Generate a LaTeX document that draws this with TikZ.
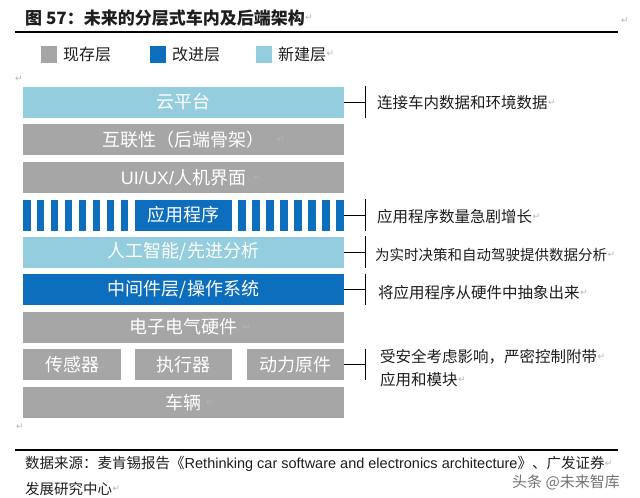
\documentclass[tikz,border=0pt]{standalone}
\usepackage{fontspec}
\setmainfont{Noto Sans CJK SC}
\newfontfamily\latinfont{Liberation Sans}
\newfontfamily\symfont{DejaVu Sans}
\definecolor{existc}{HTML}{A6A6A6}
\definecolor{improvec}{HTML}{0E6EBE}
\definecolor{newc}{HTML}{94CDDD}
\definecolor{markc}{HTML}{B4B4B4}
\definecolor{inkc}{HTML}{1E1E1E}
\tikzset{
  layer/.style={minimum width=321pt, minimum height=31pt, inner sep=0pt, text=white, font=\fontsize{18}{18}\selectfont},
  smallbox/.style={minimum width=97pt, minimum height=31pt, inner sep=0pt, text=white, font=\fontsize{18}{18}\selectfont},
  note/.style={anchor=west, inner sep=0pt, text=inkc, font=\fontsize{15.5}{16}\selectfont},
  ret/.style={inner sep=0pt, text=markc, font=\symfont\fontsize{9}{9}\selectfont},
  link/.style={draw=black, line width=0.8pt},
  legsq/.style={minimum width=16pt, minimum height=17pt, inner sep=0pt},
  legtxt/.style={anchor=west, inner sep=0pt, text=inkc, font=\fontsize{16}{16}\selectfont},
  stripe/.style={fill=improvec, draw=none},
  rule/.style={draw=black, line width=1.1pt},
  srctxt/.style={anchor=west, inner sep=0pt, text=inkc, font=\fontsize{14.5}{15}\selectfont},
}
\begin{document}
\begin{tikzpicture}[x=1pt,y=-1pt]
\useasboundingbox (0,0) rectangle (640,498);
\fill[white] (0,0) rectangle (640,498);

% title
\node[anchor=west, inner sep=0pt, text=inkc, font=\bfseries\fontsize{17}{17}\selectfont] (title) at (25,18) {图 57：未来的分层式车内及后端架构};
\node[ret, anchor=west] (r1) at (title.east) {↵};
\node[ret] (r2) at (625,21) {↵};
\coordinate (tl) at (15,32);
\coordinate (tr) at (618,32);
\draw[rule] (tl) -- (tr);

% legend
\node[legsq, fill=existc] (lg1) at (49,54.5) {};
\node[legtxt] (lt1) at (63,54) {现存层};
\node[legsq, fill=improvec] (lg2) at (158,54.5) {};
\node[legtxt] (lt2) at (172,54) {改进层};
\node[legsq, fill=newc] (lg3) at (264,54.5) {};
\node[legtxt] (lt3) at (278,54) {新建层};
\node[ret, anchor=west] (r3) at (lt3.east) {↵};
\node[ret] (r4) at (19,79) {↵};

% layers
\node[layer, fill=newc] (cloud) at (183.5,102) {云平台};
\node[layer, fill=existc] (conn) at (183.5,139.5) {互联性（后端骨架）};
\node[ret] (r5) at (281,140) {↵};
\node[layer, fill=existc] (ui) at (183.5,177.5) {\latinfont UI/UX/\rmfamily 人机界面};
\node[ret] (r6) at (257,178) {↵};

% application row: stripes + center box
\node[layer] (approw) at (183.5,215) {};
\foreach \i in {0,...,7} {
  \fill[stripe] ({23+\i*13.93},199.5) rectangle ++(7.5,31);
  \fill[stripe] ({238+\i*14.07},199.5) rectangle ++(7.5,31);
}
\node[smallbox, fill=improvec] (app) at (183.5,215) {应用程序};

\node[layer, fill=newc] (ai) at (183.5,252) {人工智能/先进分析};
\node[layer, fill=improvec] (mid) at (183.5,289.5) {中间件层/操作系统};
\node[layer, fill=existc] (ee) at (183.5,327) {电子电气硬件};
\node[ret] (r7) at (247,328) {↵};
\node[smallbox, fill=existc, minimum width=98pt] (sens) at (72,364.5) {传感器};
\node[smallbox, fill=existc] (act) at (183.5,364.5) {执行器};
\node[smallbox, fill=existc] (power) at (295.5,364.5) {动力原件};
\node[layer, fill=existc] (car) at (183.5,402.5) {车辆};
\node[ret] (r8) at (210,403) {↵};
\node[ret] (r9) at (20,427) {↵};

% connectors with end ticks
\coordinate (tx) at (365,0);
\foreach \b in {cloud, approw, ai, mid} {
  \draw[link] (\b.east) -- (\b.east -| tx);
  \draw[link] (\b.north -| tx) -- (\b.south -| tx);
}
\draw[link] (power.east) -- (power.east -| tx);
\draw[link] (power.north -| tx) -- (power.south -| tx);

% notes
\node[note] (n1) at (377,103) {连接车内数据和环境数据};
\node[ret, anchor=west] at (n1.east) {↵};
\node[note] (n2) at (377,217) {应用程序数量急剧增长};
\node[ret, anchor=west] at (n2.east) {↵};
\node[note, font=\fontsize{14.5}{15}\selectfont] (n3) at (375,255) {为实时决策和自动驾驶提供数据分析};
\node[ret, anchor=west] at (n3.east) {↵};
\node[note] (n4) at (378,293) {将应用程序从硬件中抽象出来};
\node[ret, anchor=west] at (n4.east) {↵};
\node[note] (n5) at (380,357) {受安全考虑影响，严密控制附带};
\node[ret, anchor=west] at (n5.east) {↵};
\node[note] (n6) at (380,380) {应用和模块};
\node[ret, anchor=west] at (n6.east) {↵};

% source
\coordinate (bl) at (15,450);
\coordinate (br) at (618,450);
\draw[rule] (bl) -- (br);
\node[srctxt] (s1) at (25,464) {数据来源：麦肯锡报告《{\latinfont Rethinking car software and electronics architecture}》、广发证券};
\node[ret, anchor=west] at (s1.east) {↵};
\node[srctxt] (s2) at (25,489) {发展研究中心};
\node[ret, anchor=west] at (s2.east) {↵};

% watermark
\node[anchor=west, inner sep=0pt, text=black!55, font=\fontsize{15}{15}\selectfont] (wm) at (512,482) {头条 @未来智库};
\end{tikzpicture}
\end{document}
